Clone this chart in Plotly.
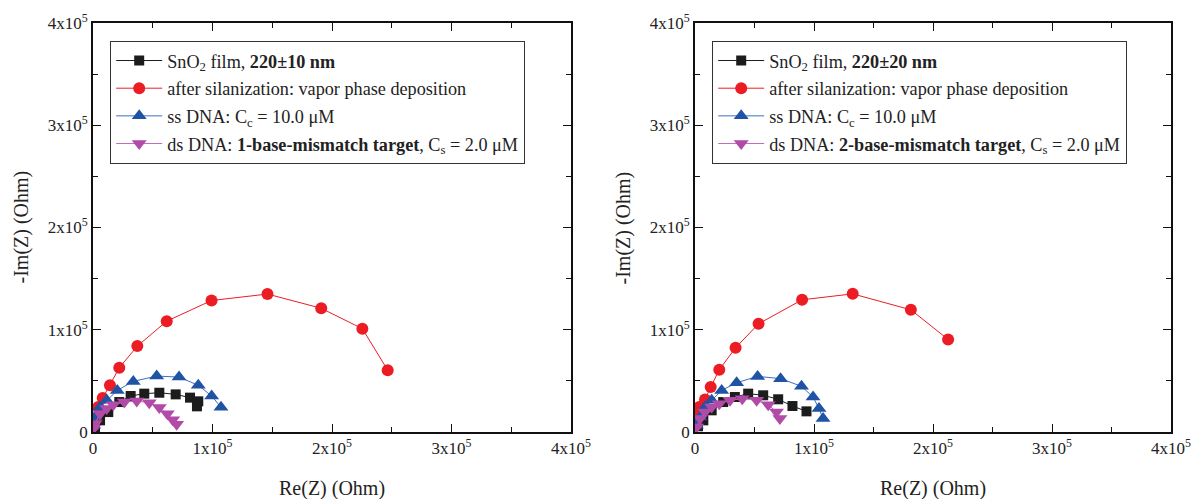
import plotly.graph_objects as go
from plotly.subplots import make_subplots

# ---------------- data (values in Ohm) ----------------
# Left panel
L_sno2_x = [1.7e3, 5.9e3, 12.8e3, 22e3, 31.5e3, 42.9e3, 55.5e3, 69.2e3, 81.2e3, 88.1e3, 87e3]
L_sno2_y = [4.8e3, 11.4e3, 19.5e3, 29.3e3, 35.2e3, 37.5e3, 38.4e3, 36.8e3, 33.6e3, 30e3, 25.1e3]
L_sil_x = [0.8e3, 2.0e3, 4.4e3, 8.1e3, 14.2e3, 22e3, 37.1e3, 61.7e3, 99.2e3, 146e3, 191e3, 225.4e3, 246.6e3]
L_sil_y = [6.5e3, 13.5e3, 24.4e3, 33.2e3, 45.7e3, 62.9e3, 84e3, 108.4e3, 128.6e3, 134.9e3, 121e3, 101e3, 60.5e3]
L_ss_x = [0.6e3, 1.7e3, 5.9e3, 11.5e3, 20.3e3, 33.7e3, 53.3e3, 72e3, 88.1e3, 99.3e3, 107.1e3]
L_ss_y = [6.5e3, 14.7e3, 24.3e3, 31e3, 40.7e3, 49.5e3, 54.7e3, 53.7e3, 45.7e3, 35.2e3, 24.3e3]
L_ds_x = [0.5e3, 1.7e3, 5.9e3, 11.5e3, 17e3, 26.2e3, 36.6e3, 47.1e3, 55.5e3, 62.2e3, 66.7e3, 70e3]
L_ds_y = [3.6e3, 8.1e3, 17.9e3, 22.9e3, 26.7e3, 29.3e3, 30.3e3, 28.7e3, 23.9e3, 17.9e3, 12.1e3, 7.5e3]

# Right panel
R_sno2_x = [2.5e3, 7e3, 14e3, 23.7e3, 33.5e3, 44.7e3, 57.3e3, 69.9e3, 81.9e3, 93.7e3]
R_sno2_y = [5.6e3, 11.4e3, 21.2e3, 29.3e3, 34.2e3, 37.5e3, 35.9e3, 32e3, 25.4e3, 20.2e3]
R_sil_x = [0.8e3, 1.8e3, 3.6e3, 8.4e3, 13.2e3, 20.4e3, 34.1e3, 53.4e3, 90e3, 132.5e3, 181.4e3, 212.7e3]
R_sil_y = [7.5e3, 15.5e3, 24.4e3, 31.9e3, 44e3, 60.9e3, 82.4e3, 105.8e3, 129.3e3, 135.1e3, 119.5e3, 90.5e3]
R_ss_x = [1.2e3, 4.2e3, 8.4e3, 14e3, 22.4e3, 35e3, 52.6e3, 71.9e3, 89.5e3, 99.2e3, 104.2e3, 107.6e3]
R_ss_y = [6.5e3, 14.7e3, 24.4e3, 31e3, 40.7e3, 48.2e3, 54.4e3, 52.2e3, 44.7e3, 34.2e3, 22.9e3, 13.1e3]
R_ds_x = [1.4e3, 4.2e3, 8.4e3, 14e3, 20.4e3, 29.4e3, 39.7e3, 51.8e3, 61.5e3, 68.5e3, 71.3e3]
R_ds_y = [4.9e3, 13.1e3, 19.5e3, 24.4e3, 27.7e3, 31e3, 32.6e3, 31e3, 26.7e3, 19.5e3, 13.1e3]

tick_vals = [0, 1e5, 2e5, 3e5, 4e5]
tick_text = ["0", "1x10<sup>5</sup>", "2x10<sup>5</sup>", "3x10<sup>5</sup>", "4x10<sup>5</sup>"]

L_names = ["SnO<sub>2</sub> film, <b>220±10 nm</b>",
           "after silanization: vapor phase deposition",
           "ss DNA: C<sub>c</sub> = 10.0 μM",
           "ds DNA: <b>1-base-mismatch target</b>, C<sub>s</sub> = 2.0 μM"]
R_names = ["SnO<sub>2</sub> film, <b>220±20 nm</b>",
           "after silanization: vapor phase deposition",
           "ss DNA: C<sub>c</sub> = 10.0 μM",
           "ds DNA: <b>2-base-mismatch target</b>, C<sub>s</sub> = 2.0 μM"]

x_title = "Re(Z) (Ohm)"
y_title = "-Im(Z) (Ohm)"

# ---------------- styles ----------------
styles = [
    dict(color="#1c1c1c", line="#1c1c1c", symbol="square", size=10),
    dict(color="#ec1c24", line="#ec1c24", symbol="circle", size=12),
    dict(color="#2053a4", line="#3d6fc0", symbol="triangle-up", size=13),
    dict(color="#b24aa8", line="#c070b8", symbol="triangle-down", size=13),
]

FONT = "Liberation Serif, Times New Roman, serif"
TXT = "#222"

W, H = 1194, 499
OFF = 0  # body margin removed via post_script


def px_x(p):
    return (p - OFF) / W


def px_y(p):
    return 1 - (p - OFF) / H


X_DOM = [[px_x(93), px_x(571)], [px_x(695), px_x(1171)]]
Y_DOM = [px_y(432), px_y(23)]

fig = make_subplots(rows=1, cols=2)

L_data = [(L_sno2_x, L_sno2_y), (L_sil_x, L_sil_y), (L_ss_x, L_ss_y), (L_ds_x, L_ds_y)]
R_data = [(R_sno2_x, R_sno2_y), (R_sil_x, R_sil_y), (R_ss_x, R_ss_y), (R_ds_x, R_ds_y)]

for col, data, names, leg in [(1, L_data, L_names, "legend"), (2, R_data, R_names, "legend2")]:
    for i, ((xs, ys), nm, st) in enumerate(zip(data, names, styles)):
        fig.add_trace(go.Scatter(
            x=xs, y=ys, mode="lines+markers", name=nm, legend=leg,
            legendgroup=f"{leg}_{i}",
            line=dict(color=st["line"], width=1),
            marker=dict(color=st["color"], symbol=st["symbol"], size=st["size"], line=dict(width=0)),
        ), row=1, col=col)

axis_common = dict(
    range=[0, 4e5], tickvals=tick_vals, ticktext=tick_text, automargin=False,
    showgrid=False, zeroline=False, showline=True, linecolor="#111", linewidth=1.6,
    mirror="ticks", ticks="inside", ticklen=8, tickwidth=1.3, tickcolor="#111",
    minor=dict(ticks="inside", ticklen=5, tickwidth=1.3, tickcolor="#111", dtick=5e4),
    tickfont=dict(family=FONT, size=17, color=TXT),
)

fig.update_xaxes(**axis_common)
fig.update_yaxes(**axis_common)

fig.update_layout(
    xaxis=dict(domain=X_DOM[0]),
    xaxis2=dict(domain=X_DOM[1]),
    yaxis=dict(domain=Y_DOM),
    yaxis2=dict(domain=Y_DOM),
)

# axis titles as annotations for exact placement
for xd in X_DOM:
    fig.add_annotation(x=(xd[0] + xd[1]) / 2, y=px_y(488), xref="paper", yref="paper",
                       text=x_title, showarrow=False, xanchor="center", yanchor="middle",
                       font=dict(family=FONT, size=20, color=TXT))
    fig.add_annotation(x=xd[0] - 72 / W, y=(Y_DOM[0] + Y_DOM[1]) / 2, xref="paper", yref="paper",
                       text=y_title, showarrow=False, xanchor="center", yanchor="middle", textangle=-90,
                       font=dict(family=FONT, size=20, color=TXT))

legend_common = dict(
    bgcolor="white", bordercolor="#333", borderwidth=1.2,
    font=dict(family=FONT, size=18.2, color=TXT),
    xanchor="left", yanchor="top", itemwidth=46, tracegroupgap=1,
)
fig.update_layout(
    legend=dict(x=px_x(110), y=px_y(41), **legend_common),
    legend2=dict(x=px_x(712), y=px_y(41), **legend_common),
    width=W, height=H,
    margin=dict(l=0, r=0, t=0, b=0),
    plot_bgcolor="white", paper_bgcolor="white",
    font=dict(family=FONT),
)

fig.write_html(
    "out.html",
    config={"displayModeBar": False},
    post_script="document.body.style.margin='0';document.body.style.overflow='hidden';",
)
